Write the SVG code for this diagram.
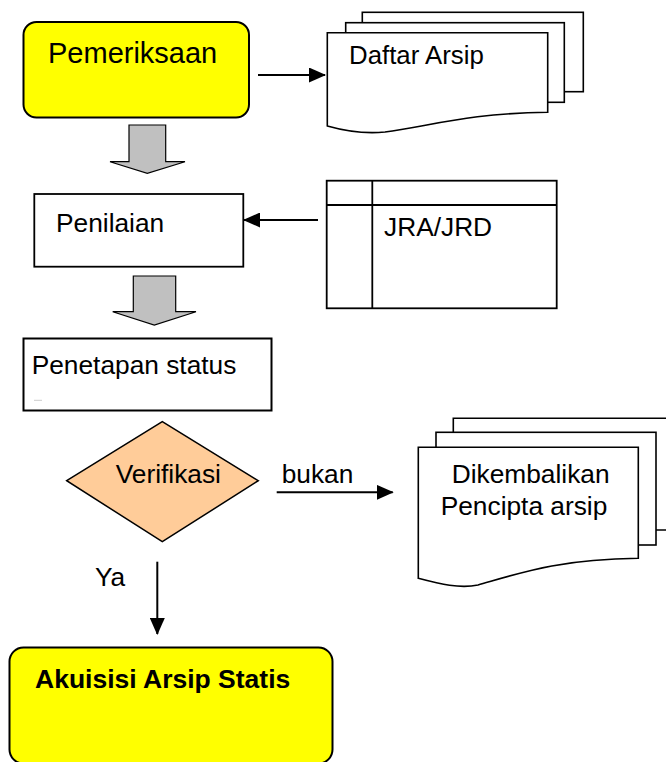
<svg xmlns="http://www.w3.org/2000/svg" width="666" height="762" viewBox="0 0 666 762">
<style>
  .t { font-family: "Liberation Sans", Arial, sans-serif; font-size: 26.3px; fill: #000; }
  .box { fill: #fff; stroke: #000; stroke-width: 1.8; }
  .yel { fill: #FFFF00; stroke: #000; stroke-width: 2; }
  .doc { fill: #fff; stroke: #000; stroke-width: 1.6; }
  .blk { fill: #C0C0C0; stroke: #000; stroke-width: 1.2; }
  .ln { fill: none; stroke: #000; stroke-width: 2; marker-end: url(#ah); }
</style>
<defs>
  <marker id="ah" viewBox="0 0 17 15" refX="16" refY="7.5" markerWidth="17" markerHeight="15" markerUnits="userSpaceOnUse" orient="auto">
    <path d="M0,0 L17,7.5 L0,15 Z" fill="#000"/>
  </marker>
</defs>
<rect width="666" height="762" fill="#fff"/>

<g id="pemeriksaan">
  <rect class="yel" x="23.5" y="22" width="225.5" height="95.5" rx="13"/>
  <text class="t" x="48" y="62.5" style="font-size:29px">Pemeriksaan</text>
</g>

<g id="daftar-arsip">
  <rect class="doc" x="362.3" y="12.3" width="221" height="79.4"/>
  <rect class="doc" x="345.7" y="22.7" width="218.6" height="79.6"/>
  <path class="doc" d="M327.3,32.7 H547.7 V112.3 C470,113 430,126 385,132 C365,134 345,131 327.3,126 Z"/>
  <text class="t" x="349" y="64" style="font-size:25.8px">Daftar Arsip</text>
</g>

<g id="penilaian">
  <rect class="box" x="34.3" y="194" width="209" height="72.7"/>
  <text class="t" x="56" y="231.7">Penilaian</text>
</g>

<g id="jra-jrd">
  <rect class="box" x="326.7" y="180.7" width="230" height="127.6"/>
  <line x1="372.3" y1="180.7" x2="372.3" y2="308.3" stroke="#000" stroke-width="1.8"/>
  <line x1="326.7" y1="205" x2="556.7" y2="205" stroke="#000" stroke-width="1.8"/>
  <text class="t" x="384" y="235.7">JRA/JRD</text>
</g>

<g id="penetapan-status">
  <rect class="box" x="23.5" y="338.5" width="248" height="72" style="stroke-width:2"/>
  <text class="t" x="31.7" y="374">Penetapan status</text>
  <line x1="34" y1="400.3" x2="42" y2="400.3" stroke="#ccc" stroke-width="1"/>
</g>

<g id="verifikasi">
  <path d="M66.7,480.7 L162.3,421.7 L258.3,480.7 L162.3,541.7 Z" fill="#FFCC99" stroke="#000" stroke-width="1.5"/>
  <text class="t" x="115.7" y="482.7">Verifikasi</text>
</g>

<g id="dikembalikan">
  <path class="doc" d="M453.3,530 V418.3 H670 M656,530 H670"/>
  <rect class="doc" x="436" y="432.3" width="220" height="112.7"/>
  <path class="doc" d="M418.3,447.3 H638.3 V558.3 C560,559 520,573 478,585 C460,589 440,584 418.3,578.3 Z"/>
  <text class="t" x="451.7" y="483.3">Dikembalikan</text>
  <text class="t" x="440.7" y="515">Pencipta arsip</text>
</g>

<g id="akuisisi">
  <rect class="yel" x="9.5" y="647.5" width="323" height="116" rx="14"/>
  <text class="t" x="35" y="688.3" style="font-weight:bold;font-size:26.5px">Akuisisi Arsip Statis</text>
</g>

<g id="connectors">
  <line class="ln" x1="258" y1="75" x2="325" y2="75"/>
  <line class="ln" x1="318" y1="220" x2="244" y2="220"/>
  <line class="ln" x1="276.7" y1="492.3" x2="392.7" y2="492.3"/>
  <line class="ln" x1="157.3" y1="561.7" x2="157.3" y2="634"/>
  <path class="blk" d="M129,125 H165.7 V161.7 H185 L147.3,173.3 L110,161.7 H129 Z"/>
  <path class="blk" d="M133.3,276 H175.7 V311.7 H196 L154.3,325 L112.7,311.7 H133.3 Z"/>
  <text class="t" x="281.7" y="483.3">bukan</text>
  <text class="t" x="95" y="586">Ya</text>
</g>
</svg>
